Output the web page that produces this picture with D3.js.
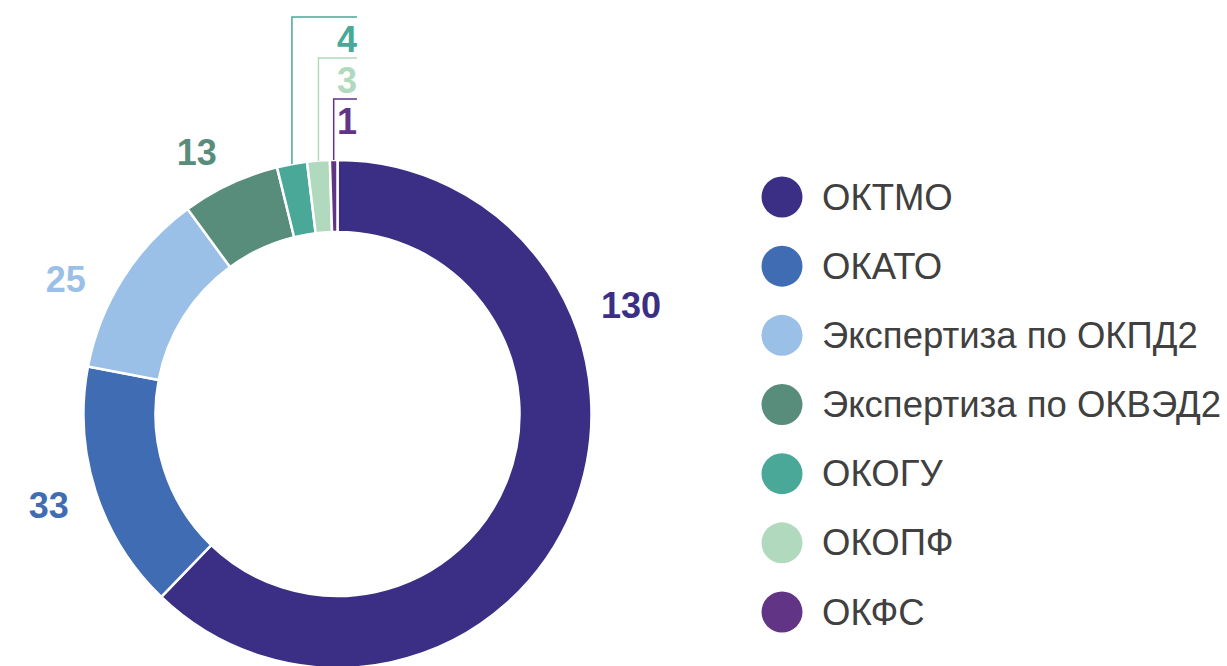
<!DOCTYPE html>
<html>
<head>
<meta charset="utf-8">
<script src="https://cdnjs.cloudflare.com/ajax/libs/d3/7.8.5/d3.min.js"></script>
<style>
  html, body { margin: 0; padding: 0; background: #fff; }
  svg { display: block; }
</style>
</head>
<body>
<div id="chart"></div>
<script>
const categories = [
  "ОКТМО",
  "ОКАТО",
  "Экспертиза по ОКПД2",
  "Экспертиза по ОКВЭД2",
  "ОКОГУ",
  "ОКОПФ",
  "ОКФС"
];

const values = [130, 33, 25, 13, 4, 3, 1];

const colors = [
  "#3b2f85",
  "#3f6cb2",
  "#9bc0e8",
  "#578d7a",
  "#4aa898",
  "#b0d9bd",
  "#623486"
];

const W = 1227;
const H = 666;
const cx = 337.5;
const cy = 414;
const outerR = 254;
const innerR = 182;

// the big slices get a label just outside the ring, the small ones get a callout line
const labelR = [313, 303, 303, 297];
const labelAngleShift = [-42.3, 0, -6, -3.3]; // degrees, to mimic the office "best fit" spot
const calloutY = [17, 58, 99]; // horizontal line level for 4, 3, 1
const calloutEndX = 357;
const font = "Liberation Sans, Arial, sans-serif";

const svg = d3.select("#chart")
  .append("svg")
  .attr("width", W)
  .attr("height", H);

const pie = d3.pie()
  .sort(null)
  .value(function (d) { return d; });

const arcs = pie(values);

const arc = d3.arc()
  .innerRadius(innerR)
  .outerRadius(outerR);

const g = svg.append("g")
  .attr("transform", "translate(" + cx + "," + cy + ")");

g.selectAll("path")
  .data(arcs)
  .enter()
  .append("path")
  .attr("d", arc)
  .attr("fill", function (d, i) { return colors[i]; })
  .attr("stroke", "#fff")
  .attr("stroke-width", 2.5);

// labels for the larger slices
arcs.forEach(function (d, i) {
  if (i >= labelAngleShift.length) return;
  const a = (d.startAngle + d.endAngle) / 2 + labelAngleShift[i] * Math.PI / 180;
  g.append("text")
    .attr("x", labelR[i] * Math.sin(a))
    .attr("y", -labelR[i] * Math.cos(a))
    .attr("text-anchor", "middle")
    .attr("dominant-baseline", "central")
    .attr("font-family", font)
    .attr("font-weight", "bold")
    .attr("font-size", 36)
    .attr("fill", colors[i])
    .text(values[i]);
});

// callouts for the small slices
arcs.forEach(function (d, i) {
  const k = i - labelAngleShift.length;
  if (k < 0) return;
  const a = (d.startAngle + d.endAngle) / 2;
  const x0 = cx + outerR * Math.sin(a);
  const y0 = cy - outerR * Math.cos(a);
  const ly = calloutY[k];
  svg.append("polyline")
    .attr("points", [[x0, y0], [x0, ly], [calloutEndX, ly]].map(function (p) { return p.join(","); }).join(" "))
    .attr("fill", "none")
    .attr("stroke", colors[i])
    .attr("stroke-width", 1.5);
  svg.append("text")
    .attr("x", calloutEndX)
    .attr("y", ly + 35)
    .attr("text-anchor", "end")
    .attr("font-family", font)
    .attr("font-weight", "bold")
    .attr("font-size", 36)
    .attr("fill", colors[i])
    .text(values[i]);
});

// legend
const legendY = d3.scalePoint()
  .domain(categories)
  .range([197, 612]);

const legend = svg.append("g");

const item = legend.selectAll("g")
  .data(categories)
  .enter()
  .append("g")
  .attr("transform", function (d) { return "translate(782," + legendY(d) + ")"; });

item.append("circle")
  .attr("r", 20.5)
  .attr("fill", function (d, i) { return colors[i]; });

item.append("text")
  .attr("x", 40)
  .attr("y", 0)
  .attr("dominant-baseline", "central")
  .attr("font-family", font)
  .attr("font-size", 36.5)
  .attr("fill", "#404040")
  .text(function (d) { return d; });
</script>
</body>
</html>
